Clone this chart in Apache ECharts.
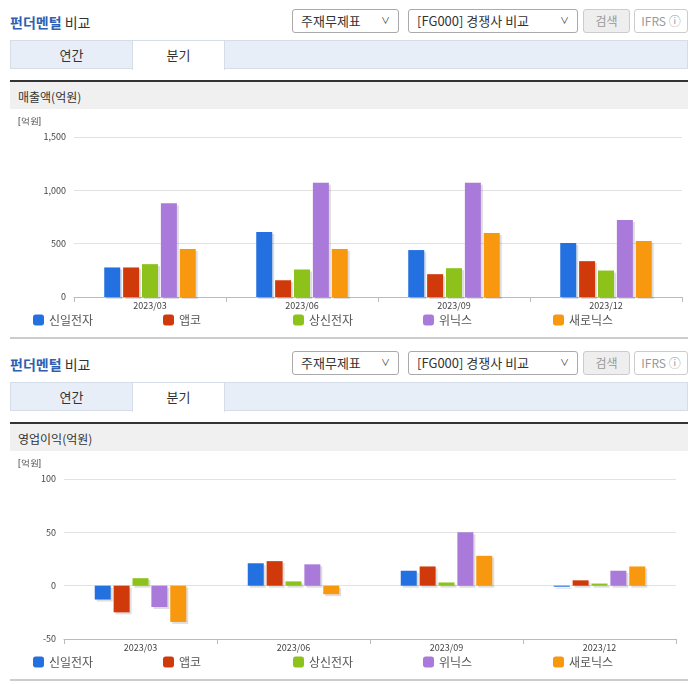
<!DOCTYPE html>
<html><head><meta charset="utf-8">
<script src="https://cdn.jsdelivr.net/npm/echarts@6/dist/echarts.min.js"></script>
<style>
body{margin:0;width:696px;height:684px;background:#fff;font-family:"Noto Sans CJK KR","Noto Sans",sans-serif;position:relative;overflow:hidden;color:#333}
.abs{position:absolute}
.title{font-size:14px;color:#333;left:10px}
.title b{color:#2f5fb3}
.sel{border:1px solid #aaa;border-radius:3px;font-size:13px;line-height:22px;padding-left:8px;box-sizing:border-box;height:24px;background:#fff}
.sel span{position:absolute;right:8px;top:0;font-size:9px}
.btn{border:1px solid #ccc;border-radius:3px;background:#eee;color:#999;font-size:12px;text-align:center;line-height:22px;height:24px;box-sizing:border-box}
.tabs{left:10px;width:678px;height:29px;background:#e8eef7;border:1px solid #d5dde8;box-sizing:border-box}
.tab{top:0;height:28px;line-height:28px;font-size:13px;text-align:center}
.head{left:10px;width:678px;height:29px;background:#f0f0f0;border-top:2px solid #333;font-size:12px;line-height:29px;padding-left:8px;box-sizing:border-box}
.chart{left:10px;width:678px;height:228px}
.foot{left:10px;width:678px;height:2px;background:#ccc}
</style></head><body>
<div id="page"></div>
<script>
var categories = ['2023/03', '2023/06', '2023/09', '2023/12'];
var companies = ['신일전자', '앱코', '상신전자', '위닉스', '새로닉스'];
var colors = ['#2370e0', '#d03a0a', '#8cc21a', '#a97ad9', '#f7980e'];
// 매출액(억원)
var salesShinil = [277, 610, 440, 506];
var salesAbko = [277, 157, 214, 336];
var salesSangshin = [308, 258, 270, 248];
var salesWinix = [880, 1072, 1072, 723];
var salesSaeronix = [450, 450, 600, 525];
// 영업이익(억원)
var opShinil = [-13, 21, 14, -1];
var opAbko = [-25, 23, 18, 5];
var opSangshin = [7, 4, 3, 2];
var opWinix = [-20, 20, 50, 14];
var opSaeronix = [-34, -8, 28, 18];

var page = document.getElementById('page');
function section(y0, label, id) {
  page.insertAdjacentHTML('beforeend',
    '<div class="abs title" style="top:' + (y0 + 12) + 'px"><b>펀더멘털</b> 비교</div>' +
    '<div class="abs sel" style="left:292px;top:' + (y0 + 9) + 'px;width:107px">주재무제표<span>&#8744;</span></div>' +
    '<div class="abs sel" style="left:408px;top:' + (y0 + 9) + 'px;width:170px">[FG000] 경쟁사 비교<span>&#8744;</span></div>' +
    '<div class="abs btn" style="left:583px;top:' + (y0 + 9) + 'px;width:47px">검색</div>' +
    '<div class="abs btn" style="left:634px;top:' + (y0 + 9) + 'px;width:54px;background:#fff">IFRS ⓘ</div>' +
    '<div class="abs tabs" style="top:' + (y0 + 40) + 'px">' +
      '<div class="abs tab" style="left:0;width:121px">연간</div>' +
      '<div class="abs tab" style="left:121px;width:91px;background:#fff;border-left:1px solid #d5dde8;border-right:1px solid #d5dde8;height:29px">분기</div></div>' +
    '<div class="abs head" style="top:' + (y0 + 80) + 'px">' + label + '</div>' +
    '<div class="abs chart" id="' + id + '" style="top:' + (y0 + 110) + 'px"></div>' +
    '<div class="abs foot" style="top:' + (y0 + 337) + 'px"></div>');
}
section(0, '매출액(억원)', 'c1');
section(342, '영업이익(억원)', 'c2');

function build(id, seriesData, yMin, yMax, step, gridLeft, gridRight) {
  var chart = echarts.init(document.getElementById(id));
  var legendLeft = [18, 148, 278, 408, 538];
  chart.setOption({
    animation: false,
    textStyle: {fontFamily: 'Noto Sans CJK KR'},
    graphic: [{type: 'text', left: 8, top: 7, style: {text: '[억원]', fontSize: 9, fill: '#444'}}],
    grid: {left: gridLeft, right: gridRight, top: 27, bottom: 41},
    legend: companies.map(function (c, i) {
      return {data: [c], left: legendLeft[i], bottom: 7, icon: 'roundRect', itemWidth: 11, itemHeight: 11,
        textStyle: {fontSize: 12, color: '#555'}};
    }),
    xAxis: {type: 'category', data: categories,
      axisLine: {onZero: false, lineStyle: {color: '#bbb'}},
      axisTick: {show: true, lineStyle: {color: '#bbb'}},
      axisLabel: {fontSize: 9, color: '#444', margin: 4}},
    yAxis: {type: 'value', min: yMin, max: yMax, interval: step,
      axisLabel: {fontSize: 9, color: '#444'},
      splitLine: {lineStyle: {color: '#e2e2e2'}}},
    series: companies.map(function (c, i) {
      return {name: c, type: 'bar', data: seriesData[i], barWidth: 16, barGap: '18%',
        itemStyle: {color: colors[i], shadowColor: 'rgba(0,0,0,0.13)', shadowOffsetX: 2, shadowOffsetY: 2}};
    })
  });
}
build('c1', [salesShinil, salesAbko, salesSangshin, salesWinix, salesSaeronix], 0, 1500, 500, 64, 6);
build('c2', [opShinil, opAbko, opSangshin, opWinix, opSaeronix], -50, 100, 50, 54, 12);
</script>
</body></html>
